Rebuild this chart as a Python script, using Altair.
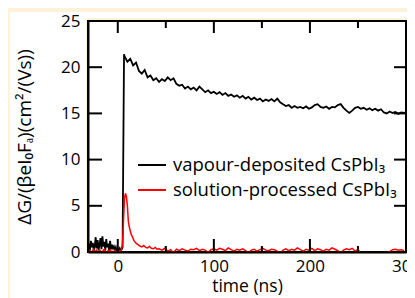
import altair as alt
import pandas as pd

# ---------------- data ----------------
SERIES = ["vapour-deposited CsPbI\u2083", "solution-processed CsPbI\u2083"]

black_t = list(range(-31, 6)) + [6.5] + list(range(7, 299, 3)) + [300]
black_v = [
    0.3, 0.9, 0.2, 1.2, 0.5, 1.0, 0.1, 0.6, 1.6, 0.4,
    1.3, 0.2, 0.8, 1.5, 0.3, 1.7, 0.6, 1.1, 0.2, 1.4,
    0.5, 0.9, 0.1, 1.2, 0.3, 0.8, 0.4, 0.6, 0.2, 0.5,
    0.1, 0.3, 0.2, 0.4, 0.1, 0.3, 0.5,
    21.4,
    21.2, 20.6, 20.9, 20.2, 20.5, 19.6, 19.3, 19.7, 18.9, 19.1,
    18.6, 18.8, 18.4, 18.7, 18.5, 18.9, 18.6, 18.8, 18.2, 18.0,
    18.1, 17.7, 17.9, 17.6, 17.8, 17.5, 17.9, 17.6, 17.3, 17.5,
    17.2, 17.35, 17.1, 17.3, 17.0, 17.2, 16.9, 17.05, 16.8, 16.95,
    16.7, 16.9, 16.6, 16.8, 16.5, 16.7, 16.45, 16.6, 16.3, 16.5,
    16.35, 16.55, 16.3, 16.6, 16.2, 16.0, 15.8, 15.9, 15.6, 15.8,
    15.6, 15.7, 15.55, 15.75, 15.5, 15.65, 15.9, 16.0, 15.7, 15.6,
    15.75, 15.5, 15.7, 15.65, 15.9, 16.0, 15.6, 15.3, 15.05, 15.3,
    15.6, 15.7, 15.5, 15.6, 15.4, 15.55, 15.35, 15.5, 15.3, 15.45,
    15.1, 15.0, 15.2, 15.05, 15.15, 14.95, 15.1, 15.05,
    15.1,
]

red_t = (list(range(-31, 5))
         + [5, 6, 7, 8, 9, 10, 11, 12, 13, 14, 15, 17, 19, 21, 23, 25, 27, 29,
            31, 33, 35, 37, 39, 41]
         + list(range(43, 299, 3)))
red_v = [
    0.1, -0.1, 0.2, 0.0, -0.2, 0.15, 0.3, -0.1, 0.1, 0.2,
    -0.1, 0.0, 0.25, 0.1, -0.2, 0.05, 0.2, 0.3, 0.1, -0.1,
    0.0, 0.15, -0.1, 0.2, 0.1, 0.0, -0.15, 0.1, 0.2, 0.05,
    -0.1, 0.1, 0.0, 0.15, 0.1, 0.3,
    1.0, 3.5, 5.8, 6.35, 6.0, 5.0, 3.3, 2.7, 2.3, 1.9,
    1.7, 1.2, 0.95, 0.8, 0.65, 0.55, 0.7, 0.5, 0.45, 0.6,
    0.4, 0.35, 0.5, 0.3,
    0.35, 0.2, 0.4, 0.1, 0.25, -0.1, 0.3, 0.15, 0.35, 0.2,
    0.1, 0.3, 0.25, 0.4, 0.15, 0.3, 0.2, -0.05, 0.25, 0.35,
    0.2, 0.4, 0.3, 0.15, 0.45, 0.25, 0.1, 0.3, 0.2, 0.35,
    0.15, -0.1, 0.2, 0.3, 0.1, 0.25, 0.4, 0.2, 0.15, 0.3,
    0.25, 0.1, -0.15, 0.2, 0.35, 0.15, 0.3, 0.2, 0.45, 0.25,
    0.1, 0.3, 0.2, 0.4, 0.15, 0.35, 0.25, 0.1, 0.3, 0.2,
    0.45, 0.3, 0.15, -0.1, 0.2, 0.35, 0.25, 0.4, 0.1, 0.3,
    -0.2, -0.1, -0.05, -0.15, -0.1, -0.2, -0.1, -0.15, -0.05, -0.1,
    0.05, 0.25, 0.3, 0.2, 0.25, 0.15,
]

x_major = [0, 100, 200, 300]
x_minor = [50, 150, 250]
y_ticks = [0, 5, 10, 15, 20, 25]

X_DOMAIN = [-31, 300]
Y_DOMAIN = [0, 25]

# ---------------- layout constants ----------------
W, H = 318, 231
FONT = "Open Sans"
FS = 17
CREAM = "#FEF3D8"

df = pd.DataFrame(
    {"t": black_t, "v": black_v, "s": SERIES[0], "w": 1.8}
)
df = pd.concat(
    [df, pd.DataFrame({"t": red_t, "v": red_v, "s": SERIES[1], "w": 1.5})],
    ignore_index=True,
)

xs = alt.Scale(domain=X_DOMAIN, nice=False, zero=False)
ys = alt.Scale(domain=Y_DOMAIN, nice=False)

one = pd.DataFrame({"k": [1]})


def band(x0, x1, y0, y1):
    return alt.Chart(one).mark_rect(color="white", clip=False).encode(
        x=alt.value(x0), x2=alt.value(x1), y=alt.value(y0), y2=alt.value(y1)
    )


# white panel around the plot area (plot area itself is the white view fill)
bands = [
    band(-78, W + 20, -9, -3),        # top
    band(-78, W + 20, H + 2, H + 60),  # bottom
    band(-78, -2, -9, H + 60),         # left
]

lines = alt.Chart(df).mark_line(clip=True).encode(
    x=alt.X(
        "t:Q", scale=xs,
        axis=alt.Axis(
            values=x_major, ticks=False, grid=False, labelPadding=6,
            labelFlush=False,
            title="time (ns)", titlePadding=3, titleFontSize=17.5, zindex=2,
        ),
    ),
    y=alt.Y(
        "v:Q", scale=ys,
        axis=alt.Axis(
            values=y_ticks, ticks=False, grid=False, labelPadding=8,
            title="\u0394G/(\u03b2eI\u2080F\u2090)(cm\u00b2/(Vs))",
            titleFontSize=19, titlePadding=26, zindex=2,
        ),
    ),
    color=alt.Color(
        "s:N",
        scale=alt.Scale(domain=SERIES, range=["black", "red"]),
        legend=alt.Legend(
            title=None, orient="none", legendX=49, legendY=129,
            symbolType="stroke", symbolSize=784, symbolStrokeWidth=2,
            labelFontSize=18.5, labelFont=FONT, labelColor="black",
            labelOffset=6, padding=0, rowPadding=0, labelLimit=0,
        ),
    ),
    strokeWidth=alt.StrokeWidth("w:Q", scale=None, legend=None),
    detail="s:N",
    order="t:Q",
)

tick_y = pd.DataFrame({"v": y_ticks})
tick_xM = pd.DataFrame({"t": x_major})
tick_xm = pd.DataFrame({"t": x_minor})
top_edge = pd.DataFrame({"t": X_DOMAIN, "v": [Y_DOMAIN[1], Y_DOMAIN[1]]})

rule = dict(color="black", strokeWidth=2)
left_ticks = alt.Chart(tick_y).mark_rule(**rule).encode(
    y=alt.Y("v:Q", scale=ys), x=alt.value(0), x2=alt.value(14))
right_ticks = alt.Chart(tick_y).mark_rule(**rule).encode(
    y=alt.Y("v:Q", scale=ys), x=alt.value(W - 12), x2=alt.value(W))
top_major = alt.Chart(tick_xM).mark_rule(**rule).encode(
    x=alt.X("t:Q", scale=xs), y=alt.value(0), y2=alt.value(12))
top_minor = alt.Chart(tick_xm).mark_rule(**rule).encode(
    x=alt.X("t:Q", scale=xs), y=alt.value(0), y2=alt.value(7))
bot_major = alt.Chart(tick_xM).mark_rule(**rule).encode(
    x=alt.X("t:Q", scale=xs), y=alt.value(H - 13), y2=alt.value(H))
bot_minor = alt.Chart(tick_xm).mark_rule(**rule).encode(
    x=alt.X("t:Q", scale=xs), y=alt.value(H - 6), y2=alt.value(H))
top_line = alt.Chart(top_edge).mark_line(
    color="black", strokeWidth=2.2, clip=False
).encode(x=alt.X("t:Q", scale=xs), y=alt.Y("v:Q", scale=ys))

chart = alt.layer(
    *bands, lines, left_ticks, right_ticks, top_major, top_minor,
    bot_major, bot_minor, top_line,
).properties(
    width=W, height=H,
    autosize=alt.AutoSizeParams(type="none"),
    padding={"left": 80, "top": 13, "right": 1, "bottom": 46},
    background=CREAM,
).configure_view(
    stroke="black", strokeWidth=2, fill="white"
).configure_axis(
    domainColor="black", domainWidth=2,
    labelFont=FONT, labelFontSize=FS, labelColor="black",
    titleFont=FONT, titleFontSize=FS, titleColor="black", titleFontWeight="normal",
)

chart.save("out.html", embed_options={"renderer": "svg", "actions": False})
